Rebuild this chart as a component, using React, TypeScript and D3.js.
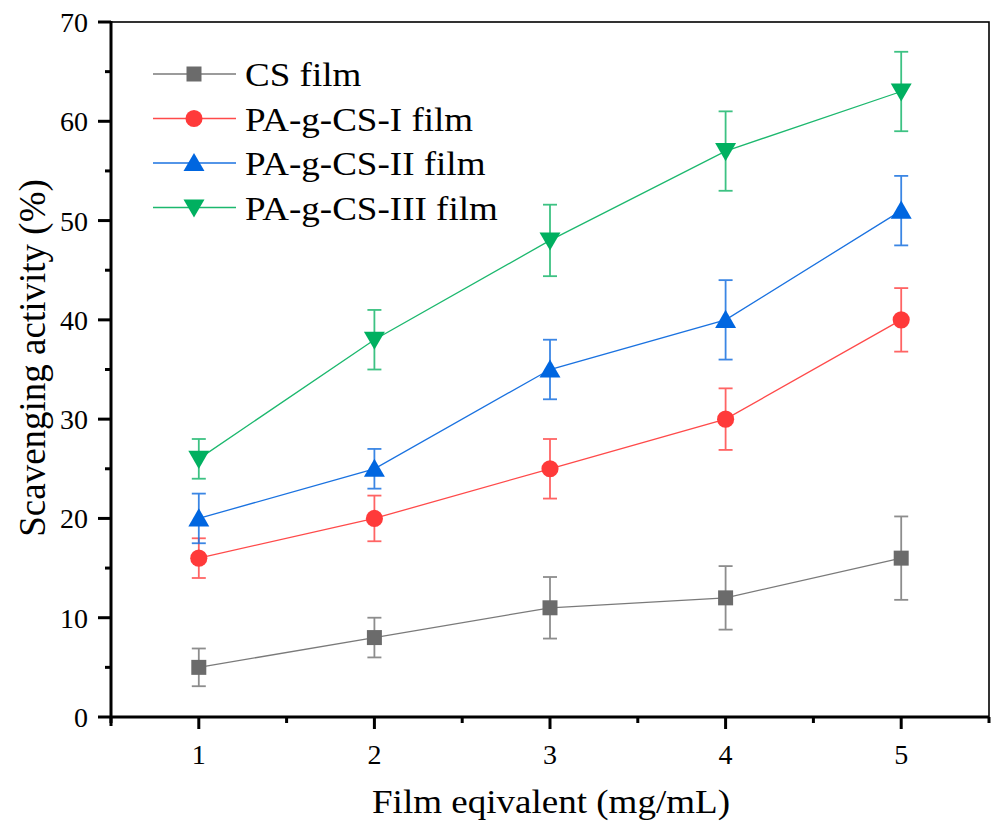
import React, { useEffect, useRef } from "react";
import * as d3 from "d3";

const xValues = [1, 2, 3, 4, 5];
const seriesNames = ["CS film", "PA-g-CS-I film", "PA-g-CS-II film", "PA-g-CS-III film"];
const csFilm = [5, 8, 11, 12, 16];
const csFilmErr = [1.9, 2.0, 3.1, 3.2, 4.2];
const paI = [16, 20, 25, 30, 40];
const paIErr = [2.0, 2.3, 3.0, 3.1, 3.2];
const paII = [20, 25, 35, 40, 51];
const paIIErr = [2.5, 2.0, 3.0, 4.0, 3.5];
const paIII = [26, 38, 48, 57, 63];
const paIIIErr = [2.0, 3.0, 3.6, 4.0, 4.0];
const lineColors = ["#7a7a7a", "#ff4a4a", "#1a72e0", "#1cb86e"];
const markerColors = ["#6b6b6b", "#ff3a3a", "#0066e0", "#00b060"];
const markerShapes = ["square", "circle", "triangle", "triangleDown"];

const App = () => {
  const svgRef = useRef<SVGSVGElement>(null);

  useEffect(() => {
    const svg = d3.select(svgRef.current);
    const width = 991;
    const height = 821;
    const margin = { top: 22, right: 2, bottom: 104, left: 111 };
    svg.selectAll("*").remove();

    const font = "Liberation Serif, Times New Roman, Times, DejaVu Serif, serif";
    const stretch = 1.09; // original figure is slightly stretched horizontally
    const x = d3.scaleLinear().domain([0.5, 5.5]).range([margin.left, width - margin.right]);
    const y = d3.scaleLinear().domain([0, 70]).range([height - margin.bottom, margin.top]);

    const all = [
      { vals: csFilm, errs: csFilmErr },
      { vals: paI, errs: paIErr },
      { vals: paII, errs: paIIErr },
      { vals: paIII, errs: paIIIErr },
    ];

    const symbolFor = (shape: string) => {
      if (shape === "square") return d3.symbol().type(d3.symbolSquare).size(225)();
      if (shape === "circle") return d3.symbol().type(d3.symbolCircle).size(230)();
      return d3.symbol().type(d3.symbolTriangle).size(190)();
    };

    // frame
    svg.append("rect")
      .attr("x", x(0.5)).attr("y", y(70))
      .attr("width", x(5.5) - x(0.5)).attr("height", y(0) - y(70))
      .attr("fill", "none").attr("stroke", "#000").attr("stroke-width", 1.6);

    // x axis
    const xAxis = svg.append("g").attr("transform", `translate(0,${y(0)})`);
    xAxis.append("line").attr("x1", x(0.5) - 1).attr("x2", x(5.5)).attr("stroke", "#000").attr("stroke-width", 3);
    d3.range(0.5, 5.51, 0.5).forEach((t) => {
      const major = Number.isInteger(t);
      xAxis.append("line")
        .attr("x1", x(t)).attr("x2", x(t))
        .attr("y1", 0).attr("y2", major ? 12 : 6)
        .attr("stroke", "#000").attr("stroke-width", 3);
    });
    xValues.forEach((t) => {
      xAxis.append("text")
        .attr("x", x(t)).attr("y", 47)
        .attr("text-anchor", "middle")
        .attr("font-family", font).attr("font-size", 28)
        .text(t);
    });

    // y axis
    const yAxis = svg.append("g").attr("transform", `translate(${x(0.5)},0)`);
    yAxis.append("line").attr("y1", y(70) - 1).attr("y2", y(0) + 9).attr("stroke", "#000").attr("stroke-width", 3);
    d3.range(0, 70.1, 5).forEach((t) => {
      const major = t % 10 === 0;
      yAxis.append("line")
        .attr("x1", major ? -13 : -6).attr("x2", 0)
        .attr("y1", y(t)).attr("y2", y(t))
        .attr("stroke", "#000").attr("stroke-width", 3);
      if (major) {
        yAxis.append("text")
          .attr("x", -23).attr("y", y(t) + 10)
          .attr("text-anchor", "end")
          .attr("font-family", font).attr("font-size", 28)
          .text(t);
      }
    });

    // titles
    svg.append("text")
      .attr("transform", `translate(551,813) scale(${stretch},1)`)
      .attr("text-anchor", "middle")
      .attr("font-family", font).attr("font-size", 34)
      .text("Film eqivalent (mg/mL)");
    svg.append("text")
      .attr("transform", `translate(45,358) rotate(-90)`)
      .attr("text-anchor", "middle")
      .attr("font-family", font).attr("font-size", 37)
      .text("Scavenging activity (%)");

    // series
    all.forEach((s, i) => {
      const g = svg.append("g");
      const line = d3.line<number>().x((_, j) => x(xValues[j])).y((d) => y(d));
      g.append("path").datum(s.vals)
        .attr("d", line).attr("fill", "none")
        .attr("stroke", lineColors[i]).attr("stroke-width", 1.3);
      s.vals.forEach((v, j) => {
        const cx = x(xValues[j]);
        const top = y(v + s.errs[j]);
        const bot = y(v - s.errs[j]);
        const eg = g.append("g").attr("stroke", lineColors[i]).attr("stroke-width", 1.8).attr("opacity", 0.85);
        eg.append("line").attr("x1", cx).attr("x2", cx).attr("y1", top).attr("y2", bot);
        eg.append("line").attr("x1", cx - 7).attr("x2", cx + 7).attr("y1", top).attr("y2", top);
        eg.append("line").attr("x1", cx - 7).attr("x2", cx + 7).attr("y1", bot).attr("y2", bot);
      });
      g.selectAll(".m").data(s.vals).enter().append("path")
        .attr("d", symbolFor(markerShapes[i]))
        .attr("transform", (d, j) =>
          `translate(${x(xValues[j])},${y(d) + (markerShapes[i] === "triangle" ? 2 : markerShapes[i] === "triangleDown" ? -2 : 0)})${markerShapes[i] === "triangleDown" ? " rotate(180)" : ""}`)
        .attr("fill", markerColors[i]);
    });

    // legend
    const legend = svg.append("g");
    seriesNames.forEach((name, i) => {
      const ly = 74 + i * 44.5;
      legend.append("line").attr("x1", 153).attr("x2", 236).attr("y1", ly).attr("y2", ly)
        .attr("stroke", lineColors[i]).attr("stroke-width", 1.3);
      const dy = markerShapes[i] === "triangle" ? 2 : markerShapes[i] === "triangleDown" ? -2 : 0;
      legend.append("path")
        .attr("d", symbolFor(markerShapes[i]))
        .attr("transform", `translate(194,${ly + dy})${markerShapes[i] === "triangleDown" ? " rotate(180)" : ""}`)
        .attr("fill", markerColors[i]);
      legend.append("text")
        .attr("transform", `translate(245,${ly + 12}) scale(${stretch},1)`)
        .attr("font-family", font).attr("font-size", 34)
        .text(name);
    });
  }, []);

  return (
    <svg
      ref={svgRef}
      width={991}
      height={821}
      style={{ position: "absolute", left: 0, top: 0, background: "#fff" }}
    ></svg>
  );
};

export default App;
